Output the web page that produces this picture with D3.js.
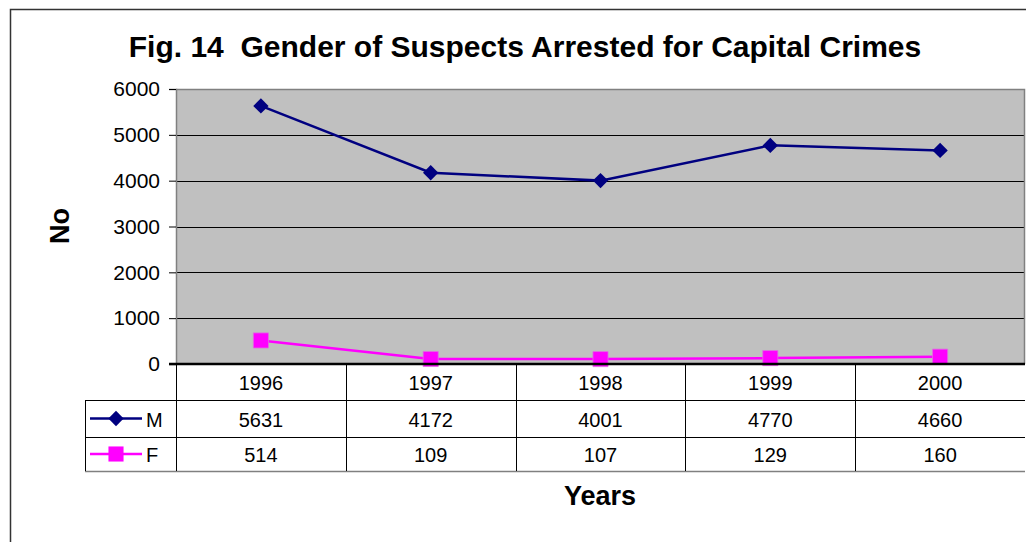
<!DOCTYPE html>
<html lang="en">
  <head>
    <meta charset="utf-8" />
    <title>Fig. 14</title>
    <style>
      body { margin: 0; background: #fff; }
      svg text { font-family: "Liberation Sans", Arial, sans-serif; }
    </style>
  </head>
  <body>
    <svg id="chart" width="1026" height="542"></svg>
    <script src="https://d3js.org/d3.v7.min.js"></script>
    <script>
      // data
      const years = ["1996", "1997", "1998", "1999", "2000"];
      const maleValues = [5631, 4172, 4001, 4770, 4660];
      const femaleValues = [514, 109, 107, 129, 160];
      const yTicks = [0, 1000, 2000, 3000, 4000, 5000, 6000];

      const series = [
        { name: "M", values: maleValues, color: "#000080", shape: "diamond" },
        { name: "F", values: femaleValues, color: "#ff00ff", shape: "square" },
      ];

      var svg = d3.select("#chart");

      var plot = { left: 176, top: 89, right: 1025, bottom: 364 };
      var rowH = [36, 37, 34];
      var legendLeft = 85;

      var diamond = d3.symbol(d3.symbolDiamond2, 150)();
      var square = d3.symbol(d3.symbolSquare2, 290)();

      // outer frame
      svg.append("rect")
        .attr("x", 10.5).attr("y", 9.5)
        .attr("width", 1030).attr("height", 560)
        .attr("fill", "none").attr("stroke", "#333").attr("stroke-width", 1.5);

      var x = d3.scaleBand().domain(years).range([plot.left, plot.right]);
      var y = d3.scaleLinear().domain([0, 6000]).range([plot.bottom, plot.top]);

      // plot area
      svg.append("rect")
        .attr("x", plot.left).attr("y", plot.top)
        .attr("width", plot.right - plot.left).attr("height", plot.bottom - plot.top)
        .attr("fill", "#c0c0c0");

      // gridlines
      svg.append("g").selectAll("line")
        .data(yTicks.filter((d) => d > 0 && d < 6000))
        .join("line")
        .attr("x1", plot.left).attr("x2", plot.right)
        .attr("y1", (d) => Math.round(y(d)) + 0.5).attr("y2", (d) => Math.round(y(d)) + 0.5)
        .attr("stroke", "#000").attr("stroke-width", 1);

      // plot border top / right
      svg.append("path")
        .attr("d", "M" + plot.left + "," + (plot.top + 0.5) + "H" + (plot.right - 0.5) + "V" + plot.bottom)
        .attr("fill", "none").attr("stroke", "#808080").attr("stroke-width", 1.5);

      // y axis
      var yAxis = svg.append("g")
        .attr("transform", "translate(" + plot.left + ",0)")
        .call(d3.axisLeft(y).tickValues(yTicks).tickSize(7).tickPadding(9).tickFormat(d3.format("d")));
      yAxis.select(".domain").attr("stroke", "#808080").attr("stroke-width", 1.5);
      yAxis.selectAll("text").attr("font-size", 21).attr("fill", "#000")
        .style("font-family", "'Liberation Sans', Arial, sans-serif");
      yAxis.selectAll(".tick line").attr("stroke", "#000");

      // table
      var table = svg.append("g");
      var tableBottom = plot.bottom + rowH[0] + rowH[1] + rowH[2];
      var rowTops = [plot.bottom, plot.bottom + rowH[0], plot.bottom + rowH[0] + rowH[1]];

      // horizontal lines
      table.append("line")
        .attr("x1", legendLeft).attr("x2", plot.right)
        .attr("y1", rowTops[1] + 0.5).attr("y2", rowTops[1] + 0.5)
        .attr("stroke", "#000");
      table.append("line")
        .attr("x1", legendLeft).attr("x2", plot.right)
        .attr("y1", rowTops[2] + 0.5).attr("y2", rowTops[2] + 0.5)
        .attr("stroke", "#000");
      table.append("line")
        .attr("x1", legendLeft).attr("x2", plot.right)
        .attr("y1", tableBottom + 0.5).attr("y2", tableBottom + 0.5)
        .attr("stroke", "#808080").attr("stroke-width", 1.5);

      // vertical lines
      table.append("line")
        .attr("x1", legendLeft + 0.5).attr("x2", legendLeft + 0.5)
        .attr("y1", rowTops[1]).attr("y2", tableBottom)
        .attr("stroke", "#000");
      table.selectAll("line.col")
        .data(years)
        .join("line")
        .attr("class", "col")
        .attr("x1", (d) => Math.round(x(d)) + 0.5).attr("x2", (d) => Math.round(x(d)) + 0.5)
        .attr("y1", plot.bottom).attr("y2", tableBottom)
        .attr("stroke", "#000");

      // category labels
      table.selectAll("text.cat")
        .data(years)
        .join("text")
        .attr("class", "cat")
        .attr("x", (d) => x(d) + x.bandwidth() / 2)
        .attr("y", rowTops[0] + 26)
        .attr("text-anchor", "middle").attr("font-size", 20)
        .text((d) => d);

      // value rows + legend keys
      series.forEach(function (s, si) {
        var top = rowTops[si + 1];
        var mid = top + rowH[si + 1] / 2;
        table.selectAll("text.v" + si)
          .data(s.values)
          .join("text")
          .attr("class", "v" + si)
          .attr("x", (d, i) => x(years[i]) + x.bandwidth() / 2)
          .attr("y", mid + 8)
          .attr("text-anchor", "middle").attr("font-size", 20)
          .text((d) => d);

        table.append("line")
          .attr("x1", 90).attr("x2", 142)
          .attr("y1", mid).attr("y2", mid)
          .attr("stroke", s.color).attr("stroke-width", 2.5);
        table.append("path")
          .attr("transform", "translate(116," + mid + ")")
          .attr("d", s.shape === "diamond" ? diamond : square)
          .attr("fill", s.color);
        table.append("text")
          .attr("x", 146).attr("y", mid + 8)
          .attr("font-size", 20)
          .text(s.name);
      });

      // lines and markers
      var line = d3.line()
        .x((d, i) => x(years[i]) + x.bandwidth() / 2)
        .y((d) => y(d));

      series.forEach(function (s) {
        svg.append("path")
          .datum(s.values)
          .attr("d", line)
          .attr("fill", "none")
          .attr("stroke", s.color)
          .attr("stroke-width", 2.5);
        svg.append("g").selectAll("path")
          .data(s.values)
          .join("path")
          .attr("transform", (d, i) => "translate(" + (x(years[i]) + x.bandwidth() / 2) + "," + y(d) + ")")
          .attr("d", s.shape === "diamond" ? diamond : square)
          .attr("fill", s.color)
          .attr("stroke", s.shape === "square" ? "#e070e0" : "none")
          .attr("stroke-width", 0.8);
      });

      // x axis line
      svg.append("line")
        .attr("x1", plot.left - 7).attr("x2", plot.right)
        .attr("y1", plot.bottom).attr("y2", plot.bottom)
        .attr("stroke", "#000").attr("stroke-width", 2.5);

      // title
      svg.append("text")
        .attr("x", 525).attr("y", 57)
        .attr("text-anchor", "middle")
        .attr("font-size", 30).attr("font-weight", "bold")
        .attr("xml:space", "preserve")
        .text("Fig. 14  Gender of Suspects Arrested for Capital Crimes");

      // axis titles
      svg.append("text")
        .attr("transform", "translate(69,226) rotate(-90)")
        .attr("text-anchor", "middle")
        .attr("font-size", 27).attr("font-weight", "bold")
        .text("No");

      svg.append("text")
        .attr("x", 600).attr("y", 505)
        .attr("text-anchor", "middle")
        .attr("font-size", 27).attr("font-weight", "bold")
        .text("Years");
    </script>
  </body>
</html>
